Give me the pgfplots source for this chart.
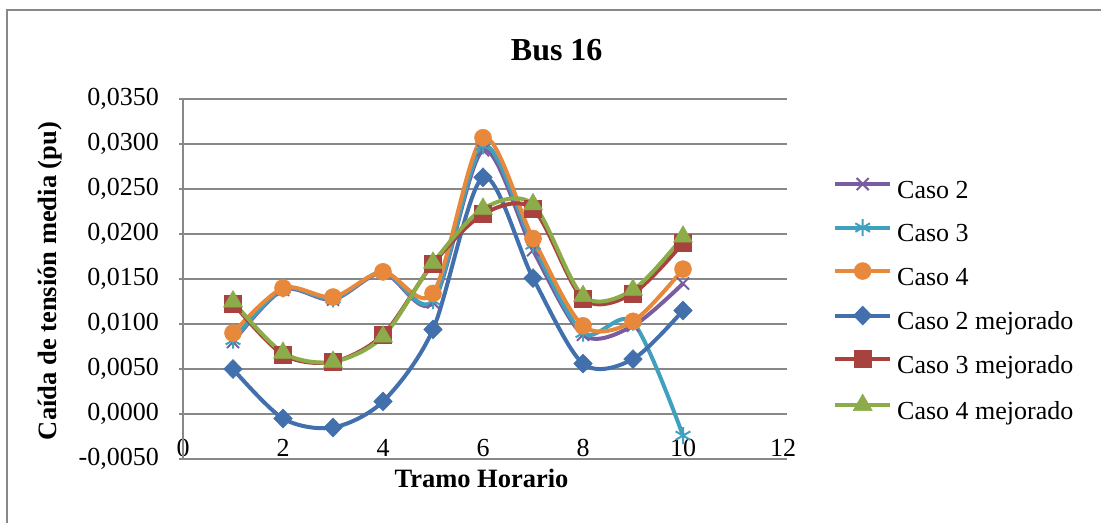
\documentclass[border=0pt]{standalone}
\usepackage{fontspec}
\setmainfont{Liberation Serif}
\usepackage{pgfplots}
\pgfplotsset{compat=1.18}
\definecolor{cpurple}{RGB}{120,94,160}
\definecolor{ccyan}{RGB}{64,160,190}
\definecolor{corange}{RGB}{232,136,58}
\definecolor{cblue}{RGB}{66,112,172}
\definecolor{cred}{RGB}{168,66,62}
\definecolor{cgreen}{RGB}{140,172,74}
\definecolor{cgrid}{RGB}{136,136,136}
\begin{document}
\begin{tikzpicture}
\useasboundingbox (0,0) rectangle (1101bp,-523bp);
\draw[cgrid, line width=1.5bp] (7bp,-523bp) -- (7bp,-10bp) -- (1101bp,-10bp);
\begin{axis}[
  at={(183bp,-459bp)}, anchor=south west,
  scale only axis, width=600bp, height=360bp,
  xmin=0, xmax=12, ymin=-0.005, ymax=0.035,
  xtick={0,2,4,6,8,10,12},
  ytick={-0.005,0,0.005,0.01,0.015,0.02,0.025,0.03,0.035},
  scaled y ticks=false,
  yticklabel style={/pgf/number format/fixed, /pgf/number format/fixed zerofill, /pgf/number format/precision=4, /pgf/number format/use comma},
  /pgf/number format/assume math mode=true,
  axis line style={draw=none},
  ymajorgrids, grid style={cgrid, line width=1.5bp},
  tick align=outside, major tick length=4bp,
  ytick style={cgrid, line width=1.5bp},
  xtick style={draw=none},
  tick label style={font=\fontsize{26bp}{30bp}\selectfont, inner sep=0pt},
  yticklabel style={anchor=east, xshift=-20bp},
  xticklabel style={anchor=north, yshift=24bp},
  clip=false,
  legend style={at={(1.0833,0.781)}, anchor=north west, draw=none, fill=none,
    inner sep=0pt, font=\fontsize{26bp}{30bp}\selectfont,
    nodes={inner sep=0pt, text height=18bp, text depth=6bp},
    row sep=15bp, column sep=5bp},
  legend cell align=left,
  legend image code/.code={\draw[mark repeat=2,mark phase=2] plot coordinates {(0bp,8bp) (27.5bp,8bp) (55bp,8bp)};},
  every axis plot/.append style={line width=4bp, smooth},
]
\draw[cgrid, line width=1.5bp] (axis cs:0,-0.005) -- (axis cs:0,0.035);
\draw[cgrid, line width=1.5bp] (axis cs:0,0) -- (axis cs:12,0);
\addplot[color=cpurple, mark=x, mark size=8.5bp, mark options={solid, line width=2bp}] coordinates {
(1,0.0080) (2,0.0138) (3,0.0127) (4,0.0157) (5,0.0124) (6,0.0293) (7,0.0182) (8,0.0088) (9,0.0098) (10,0.0145)};
\addlegendentry{Caso 2}
\addplot[color=ccyan, mark=asterisk, mark size=8.5bp, mark options={solid, line width=2bp}] coordinates {
(1,0.0082) (2,0.0139) (3,0.0128) (4,0.0158) (5,0.0126) (6,0.0298) (7,0.0188) (8,0.0090) (9,0.0102) (10,-0.0024)};
\addlegendentry{Caso 3}
\addplot[color=corange, mark=*, mark size=8.5bp, mark options={solid, line width=0.5bp}] coordinates {
(1,0.0090) (2,0.0140) (3,0.0130) (4,0.0158) (5,0.0134) (6,0.0307) (7,0.0195) (8,0.0098) (9,0.0103) (10,0.0161)};
\addlegendentry{Caso 4}
\addplot[color=cblue, mark=diamond*, mark size=9.5bp, mark options={solid, line width=0.5bp, xscale=1.3}] coordinates {
(1,0.0050) (2,-0.0005) (3,-0.0015) (4,0.0014) (5,0.0094) (6,0.0263) (7,0.0151) (8,0.0056) (9,0.0061) (10,0.0115)};
\addlegendentry{Caso 2 mejorado}
\addplot[color=cred, mark=square*, mark size=8.5bp, mark options={solid, line width=0.5bp}] coordinates {
(1,0.0123) (2,0.0066) (3,0.0058) (4,0.0088) (5,0.0167) (6,0.0222) (7,0.0228) (8,0.0128) (9,0.0134) (10,0.0190)};
\addlegendentry{Caso 3 mejorado}
\addplot[color=cgreen, mark=triangle*, mark size=11bp, mark options={solid, line width=0.5bp}] coordinates {
(1,0.0125) (2,0.0068) (3,0.0058) (4,0.0086) (5,0.0168) (6,0.0228) (7,0.0233) (8,0.0131) (9,0.0138) (10,0.0197)};
\addlegendentry{Caso 4 mejorado}
\end{axis}
\node[anchor=base, font=\fontsize{32bp}{36bp}\selectfont\bfseries] at (556.7bp,-60bp) {Bus 16};
\node[anchor=base, font=\fontsize{26.5bp}{30bp}\selectfont\bfseries] at (481.5bp,-487bp) {Tramo Horario};
\node[anchor=base, rotate=90, font=\fontsize{26.5bp}{30bp}\selectfont\bfseries] at (56bp,-281bp) {Caída de tensión media (pu)};
\end{tikzpicture}
\end{document}
